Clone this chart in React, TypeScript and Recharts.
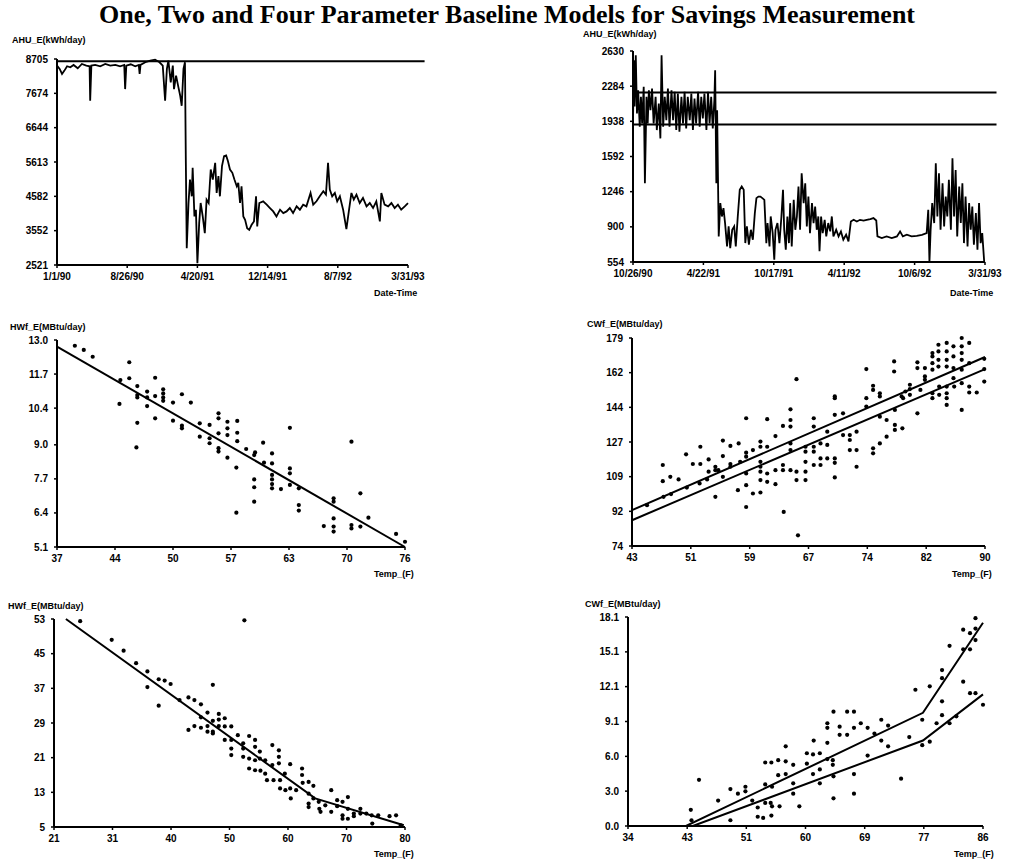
import React from "react";
import { LineChart, Line, ComposedChart, Scatter, XAxis, YAxis, ReferenceLine } from "recharts";

// ---- top left: AHU electricity, one-parameter model ----
const ahuDays1 = [0, 9, 17, 25, 34, 45, 56, 70, 84, 99, 110, 112, 116, 129, 146, 163, 180, 197, 213, 227, 230, 234, 249, 264, 276, 279, 282, 298, 315, 331, 346, 357, 365, 371, 376, 384, 391, 395, 402, 410, 416, 421, 427, 432, 435, 438, 444, 449, 455, 458, 464, 469, 474, 480, 485, 492, 499, 505, 512, 519, 526, 534, 539, 545, 550, 557, 564, 571, 577, 584, 592, 599, 607, 612, 618, 623, 629, 635, 642, 649, 657, 665, 672, 676, 683, 696, 708, 719, 730, 741, 753, 764, 775, 786, 797, 809, 820, 831, 842, 856, 865, 876, 887, 899, 908, 915, 921, 929, 938, 946, 955, 966, 977, 986, 994, 1002, 1011, 1022, 1033, 1045, 1056, 1067, 1078, 1090, 1095, 1106, 1118, 1129, 1140, 1151, 1162, 1174, 1185];
const ahuUse1 = [8507, 8406, 8255, 8356, 8487, 8456, 8527, 8426, 8557, 8507, 8487, 7450, 8507, 8527, 8487, 8557, 8507, 8527, 8487, 8527, 7802, 8507, 8547, 8487, 8527, 8255, 8527, 8607, 8657, 8687, 8607, 8507, 7450, 8406, 8657, 8004, 8507, 7802, 8205, 7852, 7601, 7300, 8406, 8607, 5589, 3024, 4382, 5086, 4583, 5439, 3980, 4181, 2571, 3778, 4382, 3980, 3477, 4483, 4382, 5388, 5086, 5589, 4684, 5187, 4583, 5489, 5791, 5811, 5640, 5388, 5288, 5086, 4885, 4986, 4382, 4885, 3980, 3879, 3628, 3577, 3728, 3829, 4583, 3678, 4382, 4433, 4332, 4231, 4130, 3980, 4181, 4080, 4130, 4231, 4080, 4282, 4181, 4332, 4282, 4684, 4332, 4433, 4583, 4734, 4634, 5589, 4785, 4583, 4684, 4433, 4583, 4181, 3597, 4181, 4684, 4483, 4634, 4382, 4533, 4282, 4382, 4231, 4433, 3829, 4684, 4332, 4282, 4382, 4231, 4332, 4181, 4282, 4382];
const ahuModel1 = 8638;
const ahuTicks1 = [2521, 3552, 4582, 5613, 6644, 7674, 8705];
const dateTicks1 = [0, 237, 474, 711, 948, 1185];
const dateLabels1 = ["1/1/90", "8/26/90", "4/20/91", "12/14/91", "8/7/92", "3/31/93"];

// ---- top right: AHU electricity, two levels ----
const ahuDays2 = [0, 2, 4, 7, 10, 13, 17, 20, 23, 27, 30, 34, 37, 40, 44, 48, 52, 57, 60, 65, 69, 72, 76, 80, 84, 88, 92, 97, 101, 105, 109, 113, 117, 122, 126, 130, 134, 138, 143, 147, 151, 155, 159, 164, 168, 172, 176, 180, 185, 189, 193, 197, 201, 205, 207, 210, 212, 216, 220, 224, 228, 232, 237, 241, 245, 250, 255, 259, 264, 269, 274, 279, 283, 287, 292, 297, 302, 307, 311, 316, 321, 326, 331, 336, 339, 344, 347, 352, 356, 359, 364, 369, 374, 378, 381, 385, 389, 393, 396, 400, 405, 409, 413, 417, 421, 425, 430, 434, 438, 442, 446, 451, 455, 459, 463, 467, 470, 474, 478, 483, 487, 492, 497, 501, 505, 512, 518, 524, 530, 537, 543, 549, 556, 564, 572, 581, 589, 598, 606, 613, 616, 627, 639, 652, 665, 673, 680, 690, 702, 715, 728, 740, 744, 747, 750, 754, 759, 763, 767, 771, 775, 780, 784, 788, 792, 796, 801, 805, 809, 813, 817, 822, 826, 830, 834, 838, 843, 847, 851, 855, 859, 864, 868, 872, 876, 880, 885];
const ahuUse2 = [1917, 2538, 2083, 2587, 2015, 2244, 1884, 2179, 1917, 2277, 1329, 2179, 1917, 2244, 2048, 2260, 1917, 2179, 1852, 2113, 1770, 2587, 1884, 2179, 1950, 2260, 1884, 2244, 1950, 2228, 1852, 2211, 1836, 2179, 1917, 2228, 1868, 2179, 1950, 2211, 1852, 2162, 1917, 2228, 1884, 2179, 1966, 2211, 1852, 2228, 1917, 2179, 1868, 2146, 2440, 1329, 2048, 806, 1133, 1002, 1084, 937, 708, 904, 691, 871, 904, 708, 1002, 1264, 1296, 1264, 740, 904, 724, 871, 773, 1035, 1182, 1198, 1198, 1182, 1165, 740, 937, 708, 1002, 838, 577, 871, 937, 740, 1002, 1264, 871, 675, 1002, 740, 1133, 708, 1165, 871, 1002, 1296, 871, 1427, 1133, 1329, 904, 1198, 838, 1133, 937, 1100, 871, 1002, 659, 1002, 838, 969, 806, 937, 855, 1002, 806, 871, 806, 855, 773, 822, 757, 953, 969, 953, 969, 962, 969, 976, 986, 962, 806, 789, 806, 789, 806, 855, 806, 822, 806, 812, 822, 838, 1067, 554, 871, 1133, 937, 1525, 1002, 1427, 871, 1329, 904, 1198, 1002, 1362, 871, 1574, 1002, 1460, 806, 1296, 937, 1329, 740, 1198, 708, 1133, 871, 1100, 724, 1035, 675, 1133, 740, 838, 554];
const ahuModel2 = [2221, 1907];
const ahuTicks2 = [554, 900, 1246, 1592, 1938, 2284, 2630];
const dateTicks2 = [0, 177.4, 354.8, 532.2, 709.6, 887];
const dateLabels2 = ["10/26/90", "4/22/91", "10/17/91", "4/11/92", "10/6/92", "3/31/93"];

// ---- middle left: heating, two-parameter ----
const hwTemp3 = [39.0, 40.0, 41.0, 45.1, 44.1, 45.1, 44.0, 46.0, 46.0, 46.0, 47.1, 47.1, 47.1, 48.0, 48.0, 48.9, 48.9, 48.9, 48.9, 48.0, 46.0, 45.9, 50.0, 50.0, 51.0, 51.0, 51.0, 52.0, 53.0, 53.0, 54.1, 54.1, 54.1, 55.1, 55.1, 55.1, 55.1, 55.1, 56.1, 56.1, 56.1, 56.1, 57.2, 57.2, 57.2, 57.1, 57.1, 58.2, 59.2, 59.1, 59.1, 59.1, 59.1, 60.1, 60.2, 61.1, 61.1, 61.1, 61.1, 61.1, 61.1, 62.1, 63.1, 63.1, 63.1, 63.1, 64.1, 64.1, 64.1, 66.9, 68.0, 68.0, 68.0, 68.0, 68.0, 70.0, 70.0, 70.0, 71.0, 71.0, 71.9, 75.0, 76.0];
const hwUse3 = [12.78, 12.62, 12.36, 12.15, 11.47, 11.54, 10.56, 11.24, 10.9, 10.81, 11.03, 10.81, 10.48, 11.56, 10.86, 11.12, 10.96, 10.81, 10.68, 10.01, 9.84, 8.9, 10.61, 9.92, 10.93, 9.73, 9.63, 10.61, 9.82, 9.31, 9.76, 9.25, 9.06, 10.2, 10.01, 9.44, 8.87, 8.74, 9.88, 9.63, 9.37, 8.51, 9.91, 9.46, 9.14, 8.13, 6.41, 8.84, 8.71, 8.61, 7.68, 7.38, 6.83, 9.08, 8.32, 8.67, 8.29, 7.85, 7.68, 7.5, 7.34, 7.31, 9.65, 8.1, 7.91, 7.47, 7.34, 6.7, 6.49, 5.9, 6.96, 6.83, 6.19, 5.88, 5.69, 9.12, 5.94, 5.81, 7.15, 5.88, 6.22, 5.6, 5.3];
const hwFitT3 = [37, 76];
const hwFitE3 = [12.75, 5.1];

// ---- middle right: cooling, two-parameter (two lines) ----
const cwTemp4 = [47.1, 47.1, 48.1, 49.2, 50.2, 51.1, 52.1, 52.1, 53.2, 53.2, 54.1, 54.1, 54.1, 55.1, 55.1, 55.1, 56.1, 56.1, 57.2, 57.1, 58.2, 58.2, 58.2, 58.2, 58.2, 58.2, 59.1, 59.1, 60.1, 60.1, 60.1, 60.1, 60.1, 60.1, 60.1, 61.0, 61.0, 61.0, 61.0, 62.1, 62.1, 62.1, 63.1, 63.1, 63.1, 63.2, 64.1, 64.1, 64.1, 64.1, 64.1, 64.1, 64.9, 64.9, 64.9, 65.1, 66.1, 66.1, 66.1, 66.1, 66.1, 67.2, 67.2, 67.2, 67.2, 67.2, 68.1, 68.1, 68.1, 69.0, 69.0, 69.0, 70.0, 70.0, 70.0, 70.0, 70.0, 70.0, 71.1, 71.1, 72.0, 72.0, 72.0, 72.9, 72.9, 72.9, 74.2, 74.2, 74.2, 75.1, 75.1, 75.1, 75.1, 76.0, 76.0, 76.0, 76.0, 76.9, 76.9, 77.9, 77.9, 78.0, 78.0, 78.0, 79.0, 78.9, 79.4, 80.0, 80.0, 81.0, 81.0, 81.0, 82.0, 82.0, 82.0, 83.0, 83.0, 83.0, 83.0, 83.0, 83.0, 83.8, 83.8, 83.8, 83.8, 83.9, 83.9, 84.9, 84.9, 84.9, 84.9, 84.9, 84.9, 84.9, 84.9, 85.8, 85.8, 85.8, 85.8, 85.9, 86.9, 86.9, 86.9, 86.9, 86.9, 86.9, 86.9, 87.9, 87.9, 87.9, 87.9, 88.9, 89.9, 89.9, 89.9, 45.0, 47.2, 48.2, 50.3, 52.0, 53.0, 54.5, 56.1, 57.4, 79.1, 80.0, 81.4];
const cwUse4 = [114.9, 106.7, 108.9, 107.6, 120.3, 115.4, 115.4, 124.1, 117.7, 111.5, 114.0, 112.3, 98.8, 127.2, 119.4, 108.9, 124.5, 115.4, 125.8, 102.2, 138.5, 121.1, 119.1, 110.6, 104.7, 93.7, 122.4, 100.5, 126.7, 124.1, 116.5, 114.0, 111.5, 107.3, 101.0, 138.0, 124.1, 110.6, 106.4, 129.5, 112.3, 105.2, 134.6, 112.3, 114.9, 91.2, 143.0, 137.6, 134.3, 125.8, 122.4, 112.3, 158.2, 107.3, 111.5, 79.4, 116.5, 107.3, 124.1, 121.6, 111.5, 138.5, 134.3, 124.1, 121.6, 114.9, 125.8, 118.2, 114.9, 125.0, 118.2, 131.7, 149.5, 148.6, 140.2, 118.2, 116.0, 108.6, 141.0, 130.0, 130.0, 127.5, 122.4, 131.7, 122.4, 114.0, 163.3, 148.6, 144.4, 154.9, 152.8, 123.3, 120.8, 151.1, 149.5, 139.3, 125.8, 137.6, 129.2, 167.2, 162.1, 135.1, 132.6, 142.7, 133.4, 149.5, 152.0, 155.4, 153.2, 166.7, 163.8, 141.0, 163.8, 159.6, 157.9, 171.4, 169.7, 166.3, 163.0, 151.1, 148.6, 175.6, 172.2, 168.0, 164.6, 154.5, 150.3, 176.5, 172.2, 168.0, 164.6, 154.5, 151.1, 148.6, 145.2, 174.8, 169.7, 163.8, 158.7, 154.5, 179.0, 174.8, 171.4, 168.0, 163.0, 156.2, 142.7, 176.5, 166.3, 154.5, 151.5, 151.5, 157.0, 163.3, 168.5, 94.6, 98.8, 100.2, 103.5, 105.6, 107.6, 112.3, 114.0, 116.5, 148.6, 150.3, 152.8];
const cwFitT4 = [43, 90];
const cwFitUpper4 = [92.1, 169.4];
const cwFitLower4 = [87.0, 163.3];

// ---- bottom left: heating, change-point ----
const hwTemp5 = [25.4, 30.7, 32.7, 34.8, 36.7, 36.7, 38.6, 38.6, 39.6, 40.6, 42.1, 43.6, 43.6, 44.6, 44.6, 45.7, 45.7, 45.7, 46.8, 46.8, 46.8, 47.7, 47.7, 47.7, 47.7, 48.7, 48.7, 48.7, 49.7, 49.7, 49.7, 50.8, 50.8, 50.8, 50.8, 51.9, 52.8, 52.8, 52.8, 53.8, 53.8, 53.8, 54.8, 54.8, 54.8, 54.8, 55.6, 55.6, 55.7, 56.5, 56.5, 56.8, 57.7, 57.7, 57.9, 58.8, 58.8, 58.8, 59.0, 59.0, 59.8, 59.9, 60.7, 60.7, 60.8, 61.7, 62.7, 62.7, 62.8, 63.8, 63.8, 63.8, 63.8, 64.6, 64.6, 65.5, 65.6, 65.8, 66.6, 67.6, 67.6, 68.6, 68.6, 69.5, 69.5, 69.5, 70.4, 70.4, 70.4, 71.4, 71.4, 72.5, 72.5, 73.5, 74.4, 74.5, 75.5, 77.4, 78.5, 79.3, 53.0];
const hwUse5 = [52.5, 48.2, 45.7, 42.8, 40.9, 37.3, 39.1, 33.0, 38.8, 38.0, 34.3, 34.9, 27.4, 34.3, 28.3, 33.3, 27.9, 30.3, 31.4, 28.3, 27.0, 37.8, 29.5, 27.0, 26.6, 31.1, 29.8, 28.3, 30.1, 25.1, 28.2, 28.2, 25.1, 23.1, 21.6, 26.2, 24.3, 21.2, 23.1, 26.0, 20.8, 18.5, 25.1, 23.5, 20.4, 18.1, 22.4, 20.8, 18.0, 20.4, 17.3, 15.8, 23.9, 19.3, 15.8, 22.7, 21.2, 19.7, 15.8, 13.9, 17.3, 13.5, 19.5, 13.9, 11.6, 13.5, 18.5, 17.0, 15.2, 12.7, 9.6, 10.4, 15.4, 14.5, 11.6, 10.8, 9.2, 8.5, 10.0, 13.5, 8.5, 11.2, 9.8, 10.8, 7.7, 6.9, 11.9, 9.2, 6.9, 8.1, 7.5, 9.2, 8.1, 8.1, 7.7, 5.8, 7.7, 7.5, 7.7, 5.4, 52.7];
const hwFitT5 = [23.0, 64.9, 79.8];
const hwFitE5 = [53.0, 11.6, 5.4];

// ---- bottom right: cooling, four-parameter ----
const cwTemp6 = [43.2, 43.3, 44.4, 47.2, 49.0, 49.0, 50.1, 51.2, 51.2, 52.2, 53.0, 53.0, 53.8, 54.1, 54.1, 54.1, 54.9, 55.0, 55.0, 55.1, 55.1, 56.0, 56.0, 56.2, 57.1, 57.1, 57.1, 58.2, 58.2, 58.2, 59.1, 60.2, 60.2, 61.1, 61.1, 61.2, 62.1, 62.1, 62.1, 63.2, 63.2, 63.2, 63.2, 64.0, 64.0, 64.1, 64.1, 64.1, 65.0, 65.0, 66.1, 66.1, 67.1, 67.1, 67.1, 67.1, 68.1, 69.1, 69.1, 70.1, 71.1, 71.1, 72.1, 72.1, 74.0, 75.2, 76.1, 77.1, 77.1, 78.2, 78.2, 79.2, 80.0, 80.0, 80.0, 80.0, 81.1, 81.1, 82.1, 83.1, 83.1, 83.1, 84.1, 84.1, 84.1, 84.9, 84.9, 84.9, 84.9, 86.0];
const cwUse6 = [1.4, 0.5, 4.0, 2.2, 3.2, 0.5, 2.8, 3.4, 3.0, 2.2, 1.6, 0.8, 0.7, 5.5, 3.6, 2.0, 2.0, 5.5, 0.9, 3.4, 1.7, 5.7, 4.4, 1.7, 6.9, 5.6, 4.5, 5.3, 3.7, 2.8, 1.7, 6.3, 5.4, 4.5, 6.2, 7.4, 6.3, 4.9, 3.7, 8.9, 8.5, 5.8, 7.2, 5.7, 5.3, 4.3, 2.4, 9.9, 8.6, 7.9, 9.9, 7.9, 9.9, 8.5, 4.5, 2.8, 8.9, 8.5, 6.1, 8.0, 9.2, 7.4, 8.7, 6.9, 4.1, 7.7, 11.8, 9.2, 7.0, 12.1, 7.3, 8.9, 13.5, 12.8, 10.8, 9.6, 15.6, 8.9, 9.5, 17.0, 15.3, 12.5, 16.7, 15.3, 11.5, 18.0, 17.1, 16.1, 11.5, 10.5];
const cwFitUpperT6 = [34, 42.5, 77.2, 86.0];
const cwFitUpperE6 = [0, 0, 9.8, 17.6];
const cwFitLowerT6 = [34, 43.5, 77.2, 86.0];
const cwFitLowerE6 = [0, 0, 7.4, 11.4];

const tempTicks3 = [37, 43.5, 50, 56.5, 63, 69.5, 76];
const tempLabels3 = ["37", "44", "50", "57", "63", "70", "76"];
const useTicks3 = [5.1, 6.4, 7.7, 9.0, 10.4, 11.7, 13.0];
const useLabels3 = ["5.1", "6.4", "7.7", "9.0", "10.4", "11.7", "13.0"];
const tempTicks4 = [43, 50.83, 58.67, 66.5, 74.33, 82.17, 90];
const tempLabels4 = ["43", "51", "59", "67", "74", "82", "90"];
const useTicks4 = [74, 91.5, 109, 126.5, 144, 161.5, 179];
const useLabels4 = ["74", "92", "109", "127", "144", "162", "179"];
const tempTicks5 = [21, 30.83, 40.67, 50.5, 60.33, 70.17, 80];
const tempLabels5 = ["21", "31", "40", "50", "60", "70", "80"];
const useTicks5 = [5, 13, 21, 29, 37, 45, 53];
const tempTicks6 = [34, 42.67, 51.33, 60, 68.67, 77.33, 86];
const tempLabels6 = ["34", "43", "51", "60", "69", "77", "86"];
const useTicks6 = [0, 3.02, 6.03, 9.05, 12.07, 15.08, 18.1];
const useLabels6 = ["0.0", "3.0", "6.0", "9.1", "12.1", "15.1", "18.1"];

const zip = (xs: number[], ys: number[]) => xs.map((x, i) => ({ x, y: ys[i] }));

const PAD_L = 50;
const PAD_T = 10;
const PAD_R = 30;
const PAD_B = 30;
const tickFont = { fill: "#000", fontSize: 10, fontWeight: 700, fontFamily: "Liberation Sans" };
const axisProps = {
  axisLine: { stroke: "#000", strokeWidth: 2 },
  tickLine: { stroke: "#000", strokeWidth: 1.5 },
  tickSize: 3,
  tick: tickFont,
  interval: 0 as const,
};

type Box = { left: number; top: number; width: number; height: number };

function Dot(props: any) {
  return <circle cx={props.cx} cy={props.cy} r={2.1} fill="#000" />;
}

function Frame({ box, children }: { box: Box; children: React.ReactNode }) {
  return <div style={{ position: "absolute", left: box.left - PAD_L, top: box.top - PAD_T }}>{children}</div>;
}

function Label({ x, y, text }: { x: number; y: number; text: string }) {
  return (
    <div style={{ position: "absolute", left: x, top: y, fontFamily: "Liberation Sans", fontWeight: 700, fontSize: 9, lineHeight: 1, whiteSpace: "nowrap", color: "#000" }}>
      {text}
    </div>
  );
}

function TimePanel(props: {
  box: Box; days: number[]; vals: number[]; xTicks: number[]; xLabels: string[]; yTicks: number[]; models: number[]; modelEnd: number;
}) {
  const { box, days, vals, xTicks, xLabels, yTicks, models, modelEnd } = props;
  const data = days.map((d, i) => ({ day: d, v: vals[i] }));
  return (
    <Frame box={box}>
      <LineChart width={box.width + PAD_L + PAD_R} height={box.height + PAD_T + PAD_B} data={data} margin={{ top: PAD_T, right: PAD_R, left: 0, bottom: 0 }}>
        <XAxis dataKey="day" type="number" domain={[xTicks[0], xTicks[xTicks.length - 1]]} ticks={xTicks} tickFormatter={(_v: number, i: number) => xLabels[i]} height={PAD_B} tickMargin={5} {...axisProps} />
        <YAxis type="number" domain={[yTicks[0], yTicks[yTicks.length - 1]]} ticks={yTicks} width={PAD_L} tickMargin={6} {...axisProps} />
        {models.map((m) => (
          <ReferenceLine key={m} segment={[{ x: 0, y: m }, { x: modelEnd, y: m }]} ifOverflow="visible" stroke="#000" strokeWidth={2} />
        ))}
        <Line dataKey="v" type="linear" stroke="#000" strokeWidth={1.8} dot={false} isAnimationActive={false} />
      </LineChart>
    </Frame>
  );
}

function ScatterPanel(props: {
  box: Box; pts: { x: number; y: number }[]; fits: { x: number; y: number }[][];
  xTicks: number[]; xLabels: string[]; yTicks: number[]; yLabels?: string[];
}) {
  const { box, pts, fits, xTicks, xLabels, yTicks, yLabels } = props;
  return (
    <Frame box={box}>
      <ComposedChart width={box.width + PAD_L + PAD_R} height={box.height + PAD_T + PAD_B} margin={{ top: PAD_T, right: PAD_R, left: 0, bottom: 0 }}>
        <XAxis dataKey="x" type="number" domain={[xTicks[0], xTicks[xTicks.length - 1]]} ticks={xTicks} tickFormatter={(_v: number, i: number) => xLabels[i]} height={PAD_B} tickMargin={5} {...axisProps} />
        <YAxis dataKey="y" type="number" domain={[yTicks[0], yTicks[yTicks.length - 1]]} ticks={yTicks}
          tickFormatter={(v: number, i: number) => (yLabels ? yLabels[i] : String(v))} width={PAD_L} tickMargin={6} {...axisProps} />
        <Scatter data={pts} shape={Dot} isAnimationActive={false} />
        {fits.map((f, i) => (
          <Line key={i} data={f} dataKey="y" type="linear" stroke="#000" strokeWidth={2} dot={false} isAnimationActive={false} />
        ))}
      </ComposedChart>
    </Frame>
  );
}

export default function App() {
  return (
    <div style={{ position: "absolute", left: 0, top: 0, width: 1014, height: 860, background: "#fff", overflow: "hidden" }}>
      <div style={{ position: "absolute", left: 0, top: 0, width: 1014, textAlign: "center", fontFamily: "Liberation Serif", fontWeight: 700, fontSize: 26, lineHeight: "30px", whiteSpace: "nowrap" }}>
        One, Two and Four Parameter Baseline Models for Savings Measurement
      </div>

      <TimePanel box={{ left: 57, top: 59, width: 351, height: 206 }} days={ahuDays1} vals={ahuUse1}
        xTicks={dateTicks1} xLabels={dateLabels1} yTicks={ahuTicks1} models={[ahuModel1]} modelEnd={1241} />
      <TimePanel box={{ left: 633, top: 51, width: 352, height: 211 }} days={ahuDays2} vals={ahuUse2}
        xTicks={dateTicks2} xLabels={dateLabels2} yTicks={ahuTicks2} models={ahuModel2} modelEnd={916} />

      <ScatterPanel box={{ left: 57, top: 340, width: 348, height: 207 }} pts={zip(hwTemp3, hwUse3)} fits={[zip(hwFitT3, hwFitE3)]}
        xTicks={tempTicks3} xLabels={tempLabels3} yTicks={useTicks3} yLabels={useLabels3} />
      <ScatterPanel box={{ left: 632, top: 338, width: 353, height: 208 }} pts={zip(cwTemp4, cwUse4)}
        fits={[zip(cwFitT4, cwFitUpper4), zip(cwFitT4, cwFitLower4)]}
        xTicks={tempTicks4} xLabels={tempLabels4} yTicks={useTicks4} yLabels={useLabels4} />
      <ScatterPanel box={{ left: 54, top: 619, width: 351, height: 208 }} pts={zip(hwTemp5, hwUse5)} fits={[zip(hwFitT5, hwFitE5)]}
        xTicks={tempTicks5} xLabels={tempLabels5} yTicks={useTicks5} />
      <ScatterPanel box={{ left: 628, top: 617, width: 355, height: 209 }} pts={zip(cwTemp6, cwUse6)}
        fits={[zip(cwFitUpperT6, cwFitUpperE6), zip(cwFitLowerT6, cwFitLowerE6)]}
        xTicks={tempTicks6} xLabels={tempLabels6} yTicks={useTicks6} yLabels={useLabels6} />

      <Label x={12} y={36} text="AHU_E(kWh/day)" />
      <Label x={583} y={30} text="AHU_E(kWh/day)" />
      <Label x={10} y={323} text="HWf_E(MBtu/day)" />
      <Label x={587} y={320} text="CWf_E(MBtu/day)" />
      <Label x={8} y={602} text="HWf_E(MBtu/day)" />
      <Label x={585} y={600} text="CWf_E(MBtu/day)" />

      <Label x={374} y={289} text="Date-Time" />
      <Label x={950} y={289} text="Date-Time" />
      <Label x={374} y={570} text="Temp_(F)" />
      <Label x={952} y={570} text="Temp_(F)" />
      <Label x={374} y={850} text="Temp_(F)" />
      <Label x={954} y={850} text="Temp_(F)" />
    </div>
  );
}
